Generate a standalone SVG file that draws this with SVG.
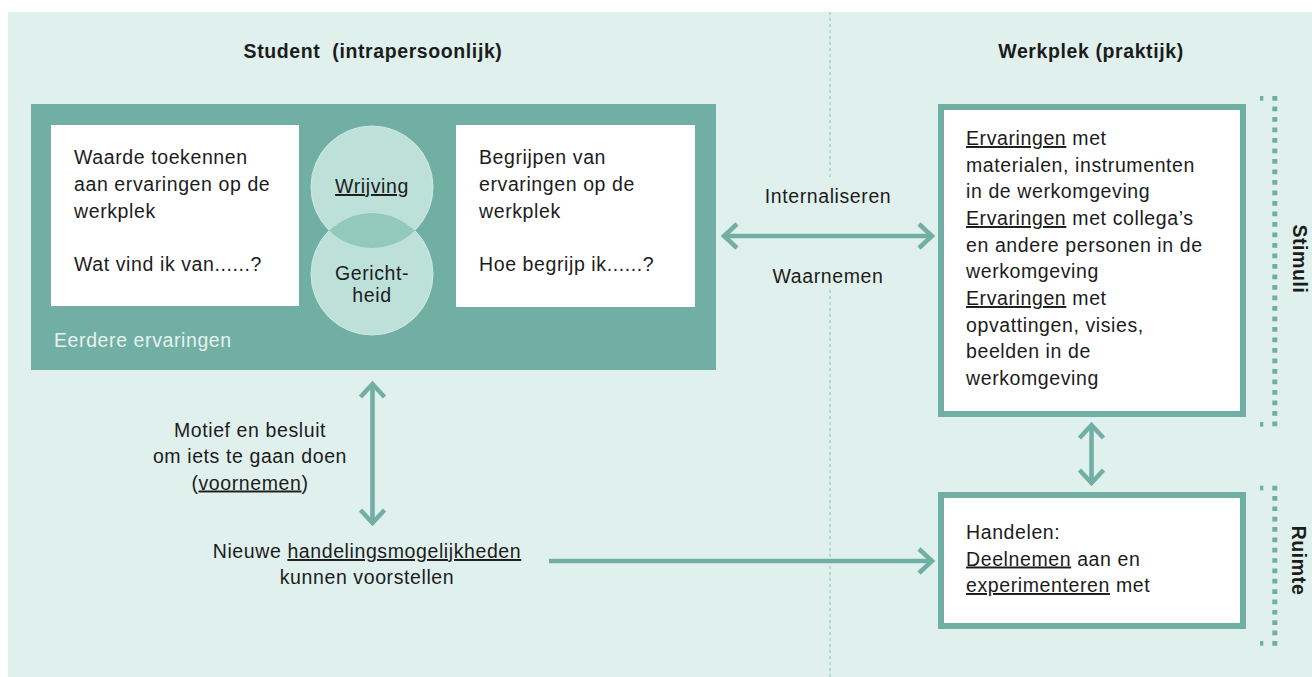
<svg xmlns="http://www.w3.org/2000/svg" width="1312" height="677" viewBox="0 0 1312 677">
<style>
.t{font-family:"Liberation Sans",Arial,sans-serif;font-size:19.5px;letter-spacing:0.6px;fill:#1c1c1c}
.b{font-weight:bold}
.m{text-anchor:middle}
.u{text-decoration:underline}
.conn{stroke:#71afa5;stroke-width:4.5;fill:none}
.dot{fill:#71afa5}
</style>
<defs>
<marker id="chev" viewBox="-18 -16 22 32" refX="0" refY="0" markerWidth="22" markerHeight="32" markerUnits="userSpaceOnUse" orient="auto-start-reverse" overflow="visible">
<path d="M-13,-12 L0,0 L-13,12" fill="none" stroke="#71afa5" stroke-width="4.5"/>
</marker>
<clipPath id="upperClip"><circle cx="372" cy="187" r="61"/></clipPath>
</defs>

<rect x="8" y="12" width="1304" height="665" fill="#e0f0ec"/>
<line x1="830" y1="12" x2="830" y2="178" stroke="#a6cfc5" stroke-width="1.5" stroke-dasharray="3 3"/>
<line x1="830" y1="290" x2="830" y2="677" stroke="#a6cfc5" stroke-width="1.5" stroke-dasharray="3 3"/>

<g id="title-student"><text class="t b m" x="373" y="58" xml:space="preserve">Student  (intrapersoonlijk)</text></g>
<g id="title-werkplek"><text class="t b m" x="1091" y="58">Werkplek (praktijk)</text></g>

<g id="student-box">
<rect x="31" y="104" width="685" height="266" fill="#71afa5"/>
<text class="t" x="54" y="346.5" style="fill:#e6f3ef">Eerdere ervaringen</text>
</g>

<g id="waarde">
<rect x="51" y="125" width="248" height="181" fill="#ffffff"/>
<text class="t" x="74" y="164">Waarde toekennen</text>
<text class="t" x="74" y="191">aan ervaringen op de</text>
<text class="t" x="74" y="217.5">werkplek</text>
<text class="t" x="74" y="271">Wat vind ik van......?</text>
</g>

<g id="begrijpen">
<rect x="456" y="125" width="239" height="182" fill="#ffffff"/>
<text class="t" x="479" y="164">Begrijpen van</text>
<text class="t" x="479" y="191">ervaringen op de</text>
<text class="t" x="479" y="217.5">werkplek</text>
<text class="t" x="479" y="271">Hoe begrijp ik......?</text>
</g>

<g id="wrijving">
<circle cx="372" cy="187" r="61" fill="#bde0d9" stroke="#cfe9e3" stroke-width="1"/>
<text class="t m" x="372" y="193"><tspan class="u">Wrijving</tspan></text>
</g>
<g id="gerichtheid">
<circle cx="372" cy="274" r="61" fill="#bde0d9" stroke="#cfe9e3" stroke-width="1"/>
<circle cx="372" cy="274" r="61" fill="#93c8bc" clip-path="url(#upperClip)"/>
<text class="t m" x="372" y="280">Gericht-</text>
<text class="t m" x="372" y="302">heid</text>
</g>

<g id="ervaringen-box">
<rect x="941" y="107" width="302" height="307" fill="#ffffff" stroke="#71afa5" stroke-width="6"/>
<text class="t" x="966" y="145"><tspan class="u">Ervaringen</tspan> met</text>
<text class="t" x="966" y="171.7">materialen, instrumenten</text>
<text class="t" x="966" y="198.3">in de werkomgeving</text>
<text class="t" x="966" y="225"><tspan class="u">Ervaringen</tspan> met collega’s</text>
<text class="t" x="966" y="251.7">en andere personen in de</text>
<text class="t" x="966" y="278.3">werkomgeving</text>
<text class="t" x="966" y="305"><tspan class="u">Ervaringen</tspan> met</text>
<text class="t" x="966" y="331.7">opvattingen, visies,</text>
<text class="t" x="966" y="358.3">beelden in de</text>
<text class="t" x="966" y="385">werkomgeving</text>
</g>

<g id="handelen-box">
<rect x="941" y="495" width="302" height="131" fill="#ffffff" stroke="#71afa5" stroke-width="6"/>
<text class="t" x="966" y="539">Handelen:</text>
<text class="t" x="966" y="565.5"><tspan class="u">Deelnemen</tspan> aan en</text>
<text class="t" x="966" y="592"><tspan class="u">experimenteren</tspan> met</text>
</g>

<g id="stimuli">
<rect class="dot" x="1260" y="96" width="3.3" height="4.7"/>
<rect class="dot" x="1260" y="422" width="3.3" height="4.7"/>
<line x1="1274.8" y1="96" x2="1274.8" y2="427" stroke="#71afa5" stroke-width="5" stroke-dasharray="4.7 5.8"/>
<text class="t b m" transform="translate(1293,259) rotate(90)">Stimuli</text>
</g>

<g id="ruimte">
<rect class="dot" x="1260" y="485.7" width="3.3" height="4.7"/>
<rect class="dot" x="1260" y="641" width="3.3" height="4.7"/>
<line x1="1274.8" y1="485.7" x2="1274.8" y2="646" stroke="#71afa5" stroke-width="5" stroke-dasharray="4.7 5.65"/>
<text class="t b m" transform="translate(1292,560.5) rotate(90)">Ruimte</text>
</g>

<g id="labels">
<text class="t m" x="828" y="203">Internaliseren</text>
<text class="t m" x="828" y="283">Waarnemen</text>
<text class="t m" x="250" y="437">Motief en besluit</text>
<text class="t m" x="250" y="463">om iets te gaan doen</text>
<text class="t m" x="250" y="489.5">(<tspan class="u">voornemen</tspan>)</text>
<text class="t m" x="367" y="558">Nieuwe <tspan class="u">handelingsmogelijkheden</tspan></text>
<text class="t m" x="367" y="583.5">kunnen voorstellen</text>
</g>

<g id="connectors">
<line class="conn" x1="724" y1="236" x2="932" y2="236" marker-start="url(#chev)" marker-end="url(#chev)"/>
<line class="conn" x1="372.5" y1="384" x2="372.5" y2="523" marker-start="url(#chev)" marker-end="url(#chev)"/>
<line class="conn" x1="549" y1="561" x2="932" y2="561" marker-end="url(#chev)"/>
<line class="conn" x1="1091.5" y1="425" x2="1091.5" y2="483" marker-start="url(#chev)" marker-end="url(#chev)"/>
</g>
</svg>
